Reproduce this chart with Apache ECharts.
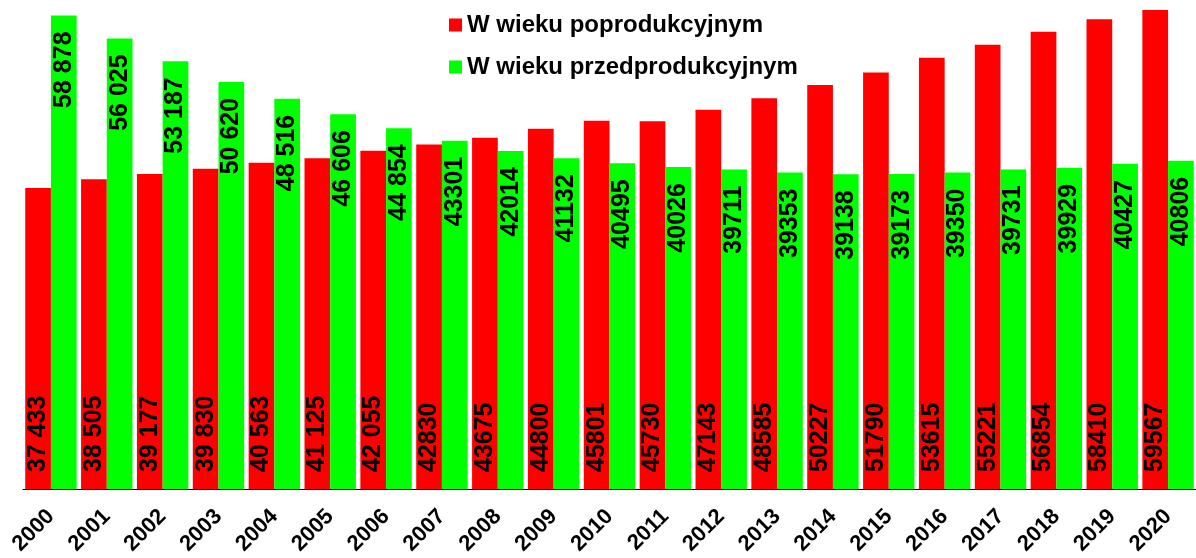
<!DOCTYPE html>
<html lang="pl">
<head>
    <meta charset="UTF-8">
    <title>Ludność w wieku przed- i poprodukcyjnym</title>
    <script src="https://cdn.jsdelivr.net/npm/echarts@6.0.0/dist/echarts.min.js"></script>
    <style>
        body { margin: 0; background: #fff; }
        #chart { width: 1196px; height: 558px; }
    </style>
</head>
<body>
<div id="chart"></div>
<script>
    // dane
    var years = ["2000", "2001", "2002", "2003", "2004", "2005", "2006", "2007", "2008", "2009", "2010",
        "2011", "2012", "2013", "2014", "2015", "2016", "2017", "2018", "2019", "2020"];
    var poprodukcyjny = [37433, 38505, 39177, 39830, 40563, 41125, 42055, 42830, 43675, 44800, 45801,
        45730, 47143, 48585, 50227, 51790, 53615, 55221, 56854, 58410, 59567];
    var przedprodukcyjny = [58878, 56025, 53187, 50620, 48516, 46606, 44854, 43301, 42014, 41132, 40495,
        40026, 39711, 39353, 39138, 39173, 39350, 39731, 39929, 40427, 40806];
    var seriesNames = ["W wieku poprodukcyjnym", "W wieku przedprodukcyjnym"];

    var font = "Liberation Sans, Arial, sans-serif";

    // pierwsze 7 lat ma spację jako separator tysięcy
    function fmt(p) {
        var s = String(p.value);
        if (p.dataIndex < 7) s = s.slice(0, -3) + " " + s.slice(-3);
        return s;
    }

    var option = {
        backgroundColor: "#fff",
        animation: false,
        color: ["#ff0000", "#00ff00"],
        textStyle: { fontFamily: font },
        grid: { left: 23, top: 0, width: 1177, height: 489 },
        legend: {
            orient: "vertical",
            left: 444,
            top: 8,
            itemWidth: 13,
            itemHeight: 13,
            itemGap: 18,
            icon: "rect",
            textStyle: { fontSize: 24, fontWeight: "bold", color: "#000", fontFamily: font },
            data: seriesNames
        },
        xAxis: {
            type: "category",
            data: years,
            axisLine: { lineStyle: { color: "#000", width: 1 } },
            axisTick: { length: 7, lineStyle: { color: "#808080" } },
            axisLabel: {
                rotate: 45,
                margin: 24,
                fontSize: 22,
                fontWeight: "bold",
                color: "#000",
                fontFamily: font
            }
        },
        yAxis: {
            type: "value",
            min: 0,
            max: 60800,
            show: false,
            splitLine: { show: false }
        },
        series: [
            {
                name: seriesNames[0],
                type: "bar",
                data: poprodukcyjny,
                barWidth: 25.7,
                barGap: "0%",
                label: {
                    show: true,
                    position: "insideBottom",
                    rotate: 90,
                    align: "left",
                    verticalAlign: "middle",
                    distance: 17,
                    fontSize: 25,
                    fontWeight: "bold",
                    color: "#000",
                    fontFamily: font,
                    formatter: fmt
                }
            },
            {
                name: seriesNames[1],
                type: "bar",
                data: przedprodukcyjny,
                barWidth: 25.7,
                barGap: "0%",
                label: {
                    show: true,
                    position: "insideTop",
                    rotate: 90,
                    align: "right",
                    verticalAlign: "middle",
                    distance: 16,
                    fontSize: 25,
                    fontWeight: "bold",
                    color: "#000",
                    fontFamily: font,
                    formatter: fmt
                }
            }
        ]
    };

    var chart = echarts.init(document.getElementById("chart"));
    chart.setOption(option);
</script>
</body>
</html>
